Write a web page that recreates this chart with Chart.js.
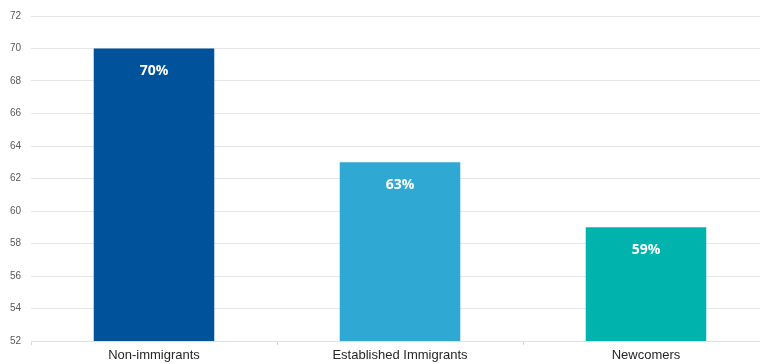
<!DOCTYPE html>
<html>
<head>
<meta charset="utf-8">
<script src="https://cdn.jsdelivr.net/npm/chart.js@4"></script>
<style>
  html, body { margin: 0; padding: 0; background: #fff; overflow: hidden; }
  #wrap { position: relative; width: 770px; height: 364px; }
</style>
</head>
<body>
<div id="wrap"><canvas id="chart"></canvas></div>
<script>
// Données du graphique
const categories = ['Non-immigrants', 'Established Immigrants', 'Newcomers'];
const values = [70, 63, 59];
const barColors = ['#00539B', '#2FA9D3', '#00B4AD'];

// Étiquettes blanches dans les barres
const barLabels = {
    id: 'barLabels',
    afterDatasetsDraw(chart) {
        const ctx = chart.ctx;
        const meta = chart.getDatasetMeta(0);
        ctx.save();
        ctx.fillStyle = '#ffffff';
        ctx.font = 'bold 14px "Open Sans"';
        ctx.textAlign = 'center';
        ctx.textBaseline = 'middle';
        meta.data.forEach((bar, i) => {
            ctx.fillText(values[i] + '%', bar.x, bar.y + 23);
        });
        ctx.restore();
    }
};

const ctx = document.getElementById('chart').getContext('2d');
new Chart(ctx, {
    type: 'bar',
    data: {
        labels: categories,
        datasets: [{
            data: values,
            backgroundColor: barColors,
            borderWidth: 0,
            barPercentage: 0.49,
            categoryPercentage: 1
        }]
    },
    options: {
        responsive: true,
        maintainAspectRatio: false,
        animation: false,
        layout: { padding: { top: 8, right: 1, left: 0, bottom: 0 } },
        plugins: {
            legend: { display: false },
            tooltip: { enabled: false }
        },
        scales: {
            x: {
                afterFit: s => { s.height = 23; },
                grid: {
                    offset: true,
                    drawOnChartArea: false,
                    color: '#d9d9d9',
                    tickLength: 4
                },
                border: { color: '#e0e0e0' },
                ticks: {
                    color: '#262626',
                    font: { family: 'Liberation Sans', size: 13 },
                    padding: 3
                }
            },
            y: {
                min: 52,
                max: 72,
                afterFit: s => { s.width = 31; },
                grid: { color: '#e6e6e6', drawTicks: false },
                border: { display: false },
                ticks: {
                    stepSize: 2,
                    color: '#595959',
                    font: { family: 'Liberation Sans', size: 10 },
                    padding: 10
                }
            }
        }
    },
    plugins: [barLabels]
});
</script>
</body>
</html>
